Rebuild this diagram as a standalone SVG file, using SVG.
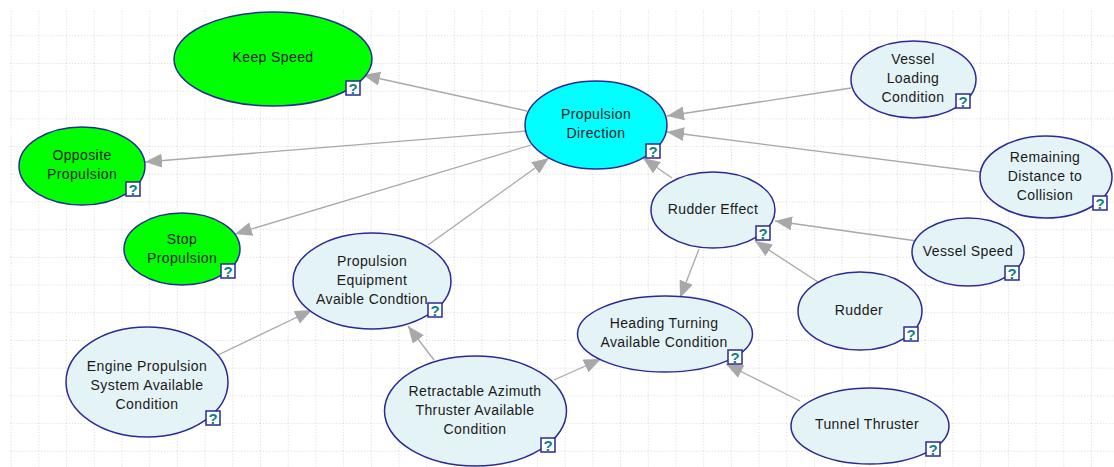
<svg xmlns="http://www.w3.org/2000/svg" width="1114" height="467" viewBox="0 0 1114 467">
<style>
text{font-family:"Liberation Sans",Arial,sans-serif;font-size:14px;fill:#1a1a1a;text-anchor:middle;letter-spacing:.4px}
.n{stroke:#2a2a96;stroke-width:1.5}
.g{fill:#00ff00}.c{fill:#00ffff}.l{fill:#e4f4f6}
.e{stroke:#a8a8a8;stroke-width:1.3;fill:none;marker-end:url(#a)}
.q rect{fill:#fff;stroke:#2a2a96;stroke-width:1.5}
.q text{font-weight:bold;font-size:15px;fill:#0a7f8a;letter-spacing:0}
</style>
<defs>
<pattern id="p" x="10.7" y="7.6" width="27.7" height="27.7" patternUnits="userSpaceOnUse">
<path d="M.5 0V27.7M0 .5H27.7" stroke="#d9d9d9" stroke-width="1" stroke-dasharray="1 2" fill="none"/>
</pattern>
<marker id="a" markerUnits="userSpaceOnUse" markerWidth="18" markerHeight="14" refX="17" refY="7" orient="auto"><path d="M0 0L17 7L0 14Z" fill="#a8a8a8"/></marker>
<g id="qm" class="q"><rect x="-7" y="-7" width="14" height="14"/><text y="5.5">?</text></g>
</defs>
<rect width="1114" height="467" fill="#fff"/>
<rect x="10" y="10" width="1104" height="457" fill="url(#p)"/>
<g id="connectors">
<path class="e" d="M527 111L363 75"/>
<path class="e" d="M527 131L145 162"/>
<path class="e" d="M531 145L235 234"/>
<path class="e" d="M428 245L549 158"/>
<path class="e" d="M851 88L667 116"/>
<path class="e" d="M981 172L667 132"/>
<path class="e" d="M672 178L643 158"/>
<path class="e" d="M699 249L680 298"/>
<path class="e" d="M917 241L775 221"/>
<path class="e" d="M818 282L755 241"/>
<path class="e" d="M216 356L312 310"/>
<path class="e" d="M434 360L408 326"/>
<path class="e" d="M554 380L601 359"/>
<path class="e" d="M800 401L726 364"/>
</g>
<g id="keep-speed"><ellipse class="n g" cx="273" cy="59" rx="99" ry="47"/><text x="273" y="62">Keep Speed</text><use href="#qm" x="353" y="88"/></g>
<g id="opposite-propulsion"><ellipse class="n g" cx="82" cy="166" rx="63" ry="39"/><text x="82" y="160">Opposite</text><text x="82" y="179">Propulsion</text><use href="#qm" x="133" y="189"/></g>
<g id="stop-propulsion"><ellipse class="n g" cx="182" cy="249" rx="58" ry="36"/><text x="182" y="244">Stop</text><text x="182" y="263">Propulsion</text><use href="#qm" x="228" y="271"/></g>
<g id="propulsion-direction"><ellipse class="n c" cx="596" cy="125" rx="71" ry="44"/><text x="596" y="119">Propulsion</text><text x="596" y="138">Direction</text><use href="#qm" x="653" y="151"/></g>
<g id="vessel-loading"><ellipse class="n l" cx="913.5" cy="79.500" rx="62.500" ry="38.500"/><text x="913" y="64">Vessel</text><text x="913" y="83">Loading</text><text x="913" y="102">Condition</text><use href="#qm" x="963" y="101"/></g>
<g id="remaining-distance"><ellipse class="n l" cx="1046" cy="177" rx="66" ry="41"/><text x="1045" y="162">Remaining</text><text x="1045" y="181">Distance to</text><text x="1045" y="200">Collision</text><use href="#qm" x="1100" y="203"/></g>
<g id="rudder-effect"><ellipse class="n l" cx="713" cy="210" rx="62" ry="38"/><text x="713" y="214">Rudder Effect</text><use href="#qm" x="763" y="233"/></g>
<g id="vessel-speed"><ellipse class="n l" cx="968" cy="252" rx="56" ry="34"/><text x="968" y="256">Vessel Speed</text><use href="#qm" x="1012" y="273"/></g>
<g id="rudder"><ellipse class="n l" cx="860" cy="311" rx="62" ry="39"/><text x="859" y="315">Rudder</text><use href="#qm" x="911" y="334"/></g>
<g id="heading-turning"><ellipse class="n l" cx="665" cy="334" rx="87.500" ry="38"/><text x="664" y="328">Heading Turning</text><text x="664" y="347">Available Condition</text><use href="#qm" x="735" y="357"/></g>
<g id="propulsion-equipment"><ellipse class="n l" cx="372" cy="281" rx="79" ry="48"/><text x="372" y="266">Propulsion</text><text x="372" y="285">Equipment</text><text x="372" y="304">Avaible Condtion</text><use href="#qm" x="435" y="310"/></g>
<g id="engine-propulsion"><ellipse class="n l" cx="147" cy="382" rx="81" ry="55"/><text x="147" y="371">Engine Propulsion</text><text x="147" y="390">System Available</text><text x="147" y="409">Condition</text><use href="#qm" x="213" y="418"/></g>
<g id="retractable-azimuth"><ellipse class="n l" cx="475.500" cy="411" rx="91" ry="55"/><text x="475" y="396">Retractable Azimuth</text><text x="475" y="415">Thruster Available</text><text x="475" y="434">Condition</text><use href="#qm" x="548" y="445"/></g>
<g id="tunnel-thruster"><ellipse class="n l" cx="870" cy="426" rx="79" ry="38"/><text x="867" y="429">Tunnel Thruster</text><use href="#qm" x="933" y="449"/></g>
</svg>
